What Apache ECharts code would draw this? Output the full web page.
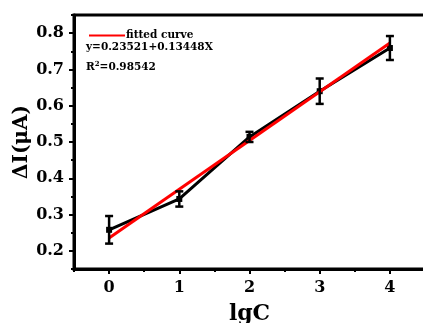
<!DOCTYPE html>
<html><head><meta charset="utf-8">
<script src="https://cdn.jsdelivr.net/npm/echarts@6/dist/echarts.min.js"></script>
<style>html,body{margin:0;padding:0;background:#fff}#c{width:423px;height:323px}</style>
</head><body><div id="c"></div>
<script>
var xValues = [0, 1, 2, 3, 4];
var yMeans = [0.258, 0.343, 0.514, 0.640, 0.759];
var yErrors = [0.038, 0.021, 0.014, 0.035, 0.033];
var fitX = [0, 4];
var fitY = [0.2352, 0.7731];
var xTickLabels = [0, 1, 2, 3, 4];
var yTickLabels = [0.2, 0.3, 0.4, 0.5, 0.6, 0.7, 0.8];
var fitLabel = 'fitted curve';
var equationText = 'y=0.23521+0.13448X';
var r2Value = '0.98542';
var xName = 'lgC';
var yName = 'ΔI(μA)';

var FONT = '"DejaVu Serif",serif';
var chart = echarts.init(document.getElementById('c'), null, {renderer: 'canvas'});
var meanData = xValues.map(function (x, i) { return [x, yMeans[i]]; });
var errData = xValues.map(function (x, i) { return [x, yMeans[i] - yErrors[i], yMeans[i] + yErrors[i]]; });
var fitData = fitX.map(function (x, i) { return [x, fitY[i]]; });

var tickStyle = {color: '#000', width: 2};
var option = {
  animation: false,
  backgroundColor: '#fff',
  grid: {left: 74, top: 15, right: -2, bottom: 54, show: true, borderColor: '#000', borderWidth: 3, backgroundColor: 'transparent',
    containLabel: false, outerBoundsMode: 'none'},
  legend: {
    data: [{name: fitLabel}], left: 84, top: 25, itemWidth: 36, itemHeight: 10, itemGap: 0,
    textStyle: {fontFamily: FONT, fontWeight: 'bold', fontSize: 10.5, color: '#000', padding: [0, 0, 0, -4]},
    icon: 'path://M0,4 L36,4 L36,6 L0,6 Z'
  },
  xAxis: [{
    type: 'value', min: -0.5, max: 4.5,
    name: xName, nameLocation: 'middle', nameGap: 34, nameMoveOverlap: false,
    nameTextStyle: {fontFamily: FONT, fontWeight: 'bold', fontSize: 22, color: '#000'},
    axisLine: {show: true, onZero: false, lineStyle: {color: '#000', width: 3}},
    axisTick: {show: true, inside: false, length: 5, lineStyle: tickStyle, customValues: xTickLabels},
    splitLine: {show: false},
    axisLabel: {fontFamily: FONT, fontWeight: 'bold', fontSize: 16, color: '#000', margin: 11, customValues: xTickLabels}
  }, {
    type: 'value', min: -0.5, max: 4.5, interval: 0.5, position: 'bottom',
    axisLine: {show: false, onZero: false}, axisLabel: {show: false}, splitLine: {show: false},
    axisTick: {show: true, inside: false, length: 3, lineStyle: tickStyle}
  }],
  yAxis: [{
    type: 'value', min: 0.15, max: 0.85,
    name: yName, nameLocation: 'middle', nameGap: 42, nameRotate: 90, nameMoveOverlap: false,
    nameTextStyle: {fontFamily: FONT, fontWeight: 'bold', fontSize: 20, color: '#000'},
    axisLine: {show: true, onZero: false, lineStyle: {color: '#000', width: 3}},
    axisTick: {show: true, inside: false, length: 5, lineStyle: tickStyle, customValues: yTickLabels},
    splitLine: {show: false},
    axisLabel: {fontFamily: FONT, fontWeight: 'bold', fontSize: 16, color: '#000', margin: 10, customValues: yTickLabels,
      formatter: function (v) { return v.toFixed(1); }}
  }, {
    type: 'value', min: 0.15, max: 0.85, interval: 0.05, position: 'left',
    axisLine: {show: false, onZero: false}, axisLabel: {show: false}, splitLine: {show: false},
    axisTick: {show: true, inside: false, length: 3, lineStyle: tickStyle}
  }],
  series: [
    {
      type: 'line', name: 'data', data: meanData, z: 2,
      lineStyle: {color: '#000', width: 3}, symbol: 'rect', symbolSize: 6,
      itemStyle: {color: '#000'}
    },
    {
      type: 'line', name: fitLabel, data: fitData, z: 3,
      lineStyle: {color: '#ff0000', width: 3}, itemStyle: {color: '#ff0000'}, symbol: 'none'
    },
    {
      type: 'custom', name: 'err', data: errData, z: 4,
      renderItem: function (params, api) {
        var lo = api.coord([api.value(0), api.value(1)]);
        var hi = api.coord([api.value(0), api.value(2)]);
        var w = 4;
        var st = {stroke: '#000', lineWidth: 2.5};
        return {type: 'group', children: [
          {type: 'line', shape: {x1: lo[0], y1: lo[1], x2: hi[0], y2: hi[1]}, style: st},
          {type: 'line', shape: {x1: lo[0] - w, y1: lo[1], x2: lo[0] + w, y2: lo[1]}, style: st},
          {type: 'line', shape: {x1: hi[0] - w, y1: hi[1], x2: hi[0] + w, y2: hi[1]}, style: st}
        ]};
      }
    }
  ],
  graphic: [
    {type: 'text', left: 86, top: 42, style: {text: equationText, fontFamily: FONT, fontWeight: 'bold', fontSize: 10.5, fill: '#000'}},
    {type: 'text', left: 86, top: 61, style: {
      text: '{a|R}{s|2}{a|=' + r2Value + '}',
      rich: {a: {fontFamily: FONT, fontWeight: 'bold', fontSize: 10.5, color: '#000'},
             s: {fontFamily: FONT, fontWeight: 'bold', fontSize: 7, color: '#000', verticalAlign: 'top', padding: [0, 0, 5, 0]}}
    }}
  ]
};
chart.setOption(option);
</script></body></html>
